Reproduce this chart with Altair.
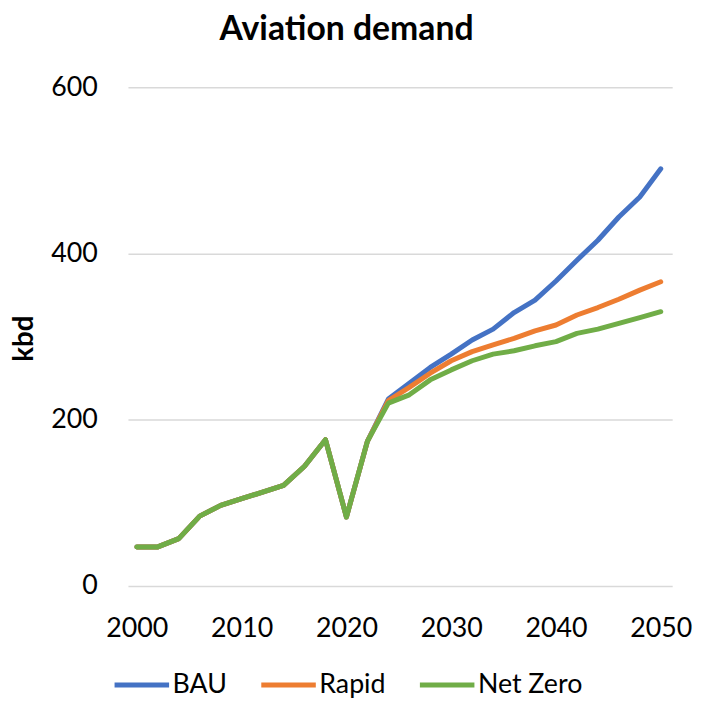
import altair as alt
import pandas as pd

years = list(range(2000, 2051, 2))
history = [47, 47, 57, 84, 97, 105, 113, 121, 144, 176, 83, 174]
bau_future = [225, 244, 263, 279, 296, 309, 329, 344, 367, 392, 416, 444, 468, 502]
rapid_future = [223, 239, 256, 271, 282, 290, 298, 307, 314, 326, 335, 345, 356, 366]
netzero_future = [220, 230, 248, 260, 271, 279, 283, 289, 294, 304, 309, 316, 323, 330]
series_names = ["BAU", "Rapid", "Net Zero"]
series_colors = ["#4472C4", "#ED7D31", "#70AD47"]
x_ticks = [2000, 2010, 2020, 2030, 2040, 2050]
y_ticks = [0, 200, 400, 600]

rows = []
for name, fut in zip(series_names, [bau_future, rapid_future, netzero_future]):
    for yr, v in zip(years, history + fut):
        rows.append({"year": yr, "kbd": v, "scenario": name})
df = pd.DataFrame(rows)

FONT = "Lato"

chart = (
    alt.Chart(df)
    .mark_line(strokeWidth=5, strokeCap="round", strokeJoin="round")
    .encode(
        x=alt.X(
            "year:Q",
            scale=alt.Scale(domain=[1999.15, 2051.09], nice=False, zero=False),
            axis=alt.Axis(
                values=x_ticks, format="d", title=None, grid=False, domain=False,
                ticks=False, labelPadding=30, labelFontSize=27, labelFont=FONT,
                labelColor="#000000", labelFlush=False,
            ),
        ),
        y=alt.Y(
            "kbd:Q",
            scale=alt.Scale(domain=[0, 600], nice=False),
            axis=alt.Axis(
                values=y_ticks, title="kbd", grid=True, gridColor="#D9D9D9",
                gridWidth=1.5, domain=False, ticks=False, labelPadding=31,
                labelFontSize=27, labelFont=FONT, labelColor="#000000",
                titleX=-104, titleY=253, titleAngle=270, titleAlign="center",
                titleBaseline="middle", titleFontSize=28, titleFont=FONT,
                titleFontWeight="bold", titleColor="#000000",
            ),
        ),
        color=alt.Color(
            "scenario:N",
            scale=alt.Scale(domain=series_names, range=series_colors),
            legend=alt.Legend(
                title=None, orient="none", legendX=-16, legendY=573,
                direction="horizontal", columns=3, symbolType="stroke",
                symbolSize=3025, symbolStrokeWidth=5, labelFontSize=27,
                labelFont=FONT, labelColor="#000000", labelOffset=1,
                columnPadding=24, padding=0, labelLimit=300,
            ),
        ),
    )
    .properties(
        width=549,
        height=503,
        title=alt.Title(
            "Aviation demand", fontSize=34, font=FONT, fontWeight="bold",
            color="#000000", dx=-54, offset=0, frame="group", anchor="middle",
            baseline="alphabetic",
        ),
        autosize=alt.AutoSizeParams(type="none"),
        padding={"left": 121, "top": 77, "right": 22, "bottom": 111},
    )
    .configure_view(stroke=None)
)

chart.save("out.html", embed_options={"renderer": "svg", "actions": False})
